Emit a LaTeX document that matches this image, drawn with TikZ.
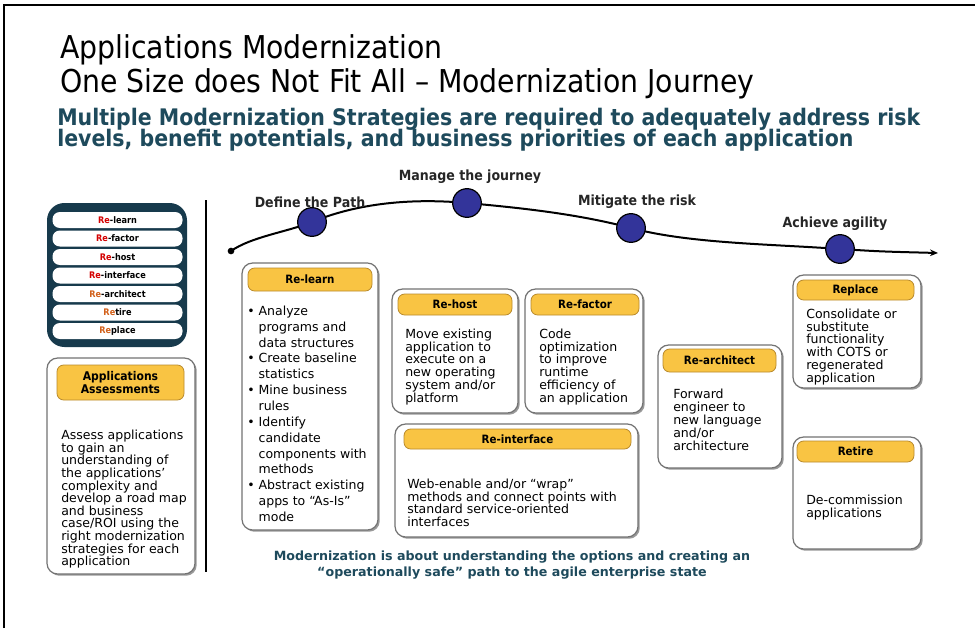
\documentclass[tikz,border=0pt]{standalone}
\usepackage{fontspec}
\setmainfont{DejaVu Sans}
\newfontfamily\condf{DejaVu Sans Condensed}
\usetikzlibrary{shadows,fit,arrows.meta}
\definecolor{hdrfill}{HTML}{F9C443}
\definecolor{hdrline}{HTML}{B8892C}
\definecolor{menunavy}{HTML}{173A4C}
\definecolor{darkteal}{HTML}{1E4A5C}
\definecolor{dotblue}{HTML}{33349A}
\definecolor{rered}{HTML}{D40000}
\definecolor{reorange}{HTML}{D2601A}
\begin{document}
\begin{tikzpicture}[x=0.75pt,y=-0.75pt,
  card/.style={draw=black!55, line width=0.9pt, rounded corners=8pt, fill=white,
     drop shadow={shadow xshift=1.3pt, shadow yshift=-1.3pt, fill=black!50, opacity=0.8}, inner sep=0pt},
  hdr/.style={draw=hdrline, line width=0.6pt, fill=hdrfill, rounded corners=5pt, inner sep=0pt},
  hdrtext/.style={inner sep=0pt, align=center, font=\condf\bfseries\fontsize{8.6}{10}\selectfont},
  body/.style={anchor=north west, align=left, inner sep=0pt, font=\fontsize{9.4}{9.6}\selectfont},
  pill/.style={fill=white, rounded corners=5.5pt, inner sep=0pt, minimum width=97.5pt, minimum height=12pt,
     font=\condf\bfseries\fontsize{6.8}{8}\selectfont},
  stop/.style={circle, fill=dotblue, draw=black, line width=0.9pt, minimum size=21.5pt, inner sep=0pt},
  stoplabel/.style={inner sep=0pt, font=\condf\bfseries\fontsize{10.5}{12}\selectfont, text=black!85},
  journey/.style={line width=1.5pt, -{Stealth[length=6pt,width=5pt]}},
  titletext/.style={anchor=base west, inner sep=0pt, font=\condf\fontsize{23.6}{28}\selectfont},
  subtext/.style={anchor=base west, inner sep=0pt, text=darkteal, font=\condf\bfseries\fontsize{17.1}{20}\selectfont},
  foottext/.style={inner sep=0pt, align=center, text=darkteal, font=\bfseries\fontsize{9.5}{12.2}\selectfont}
]
\useasboundingbox (0,0) rectangle (977,628);
\fill[white] (0,0) rectangle (977,628);
% frame
\coordinate (fbl) at (4,628); \coordinate (ftl) at (4,5); \coordinate (ftr) at (975,5);
\draw[line width=1.2pt] (fbl) -- (ftl) -- (ftr);

% titles
\node[titletext] (t1) at (60,58) {Applications Modernization};
\node[titletext] (t2) at (60,92) {One Size does Not Fit All – Modernization Journey};
\node[subtext] (s1) at (57,125) {Multiple Modernization Strategies are required to adequately address risk};
\node[subtext] (s2) at (57,146) {levels, benefit potentials, and business priorities of each application};

% menu
\node[fit={(47,203)(187,347)}, inner sep=0pt, fill=menunavy, rounded corners=13pt] (menu) {};
\node[pill] (m1) at (117.5,220) {\textcolor{rered}{Re}-learn};
\node[pill] (m2) at (117.5,238.5) {\textcolor{rered}{Re}-factor};
\node[pill] (m3) at (117.5,257) {\textcolor{rered}{Re}-host};
\node[pill] (m4) at (117.5,275.5) {\textcolor{rered}{Re}-interface};
\node[pill] (m5) at (117.5,294) {\textcolor{reorange}{Re}-architect};
\node[pill] (m6) at (117.5,312.5) {\textcolor{reorange}{Re}tire};
\node[pill] (m7) at (117.5,331) {\textcolor{reorange}{Re}place};

% divider
\coordinate (vtop) at (206,200); \coordinate (vbot) at (206,572);
\draw[line width=2.2pt] (vtop) -- (vbot);

% assessments
\node[card, fit={(47,358)(195,574)}] (assess) {};
\node[hdr, fit={(57,365)(184,400)}] (assessH) {};
\node[hdrtext, font=\condf\bfseries\fontsize{9}{10}\selectfont] at (assessH) {Applications\\Assessments};
\node[body, font=\fontsize{9.4}{9.45}\selectfont] (assessT) at (61,430) {Assess applications\\to gain an\\understanding of\\the applications’\\complexity and\\develop a road map\\and business\\case/ROI using the\\right modernization\\strategies for each\\application};

% journey
\coordinate (p0) at (231,251);
\coordinate (p1) at (312,222);
\coordinate (p2) at (467,203);
\coordinate (p3) at (631,228);
\coordinate (p4) at (840,249);
\coordinate (pe) at (938,253);
\draw[journey] (p0) .. controls (251.5,236.7) and (287,232) .. (p1)
   .. controls (358,203) and (412,198) .. (p2)
   .. controls (522,208) and (578,214) .. (p3)
   .. controls (689,243.5) and (770,244) .. (p4)
   .. controls (880,251.5) .. (pe);
\node[circle, fill=black, minimum size=5pt, inner sep=0pt] (startdot) at (p0) {};
\node[stop] (c1) at (p1) {};
\node[stop] (c2) at (p2) {};
\node[stop] (c3) at (p3) {};
\node[stop] (c4) at (p4) {};
\node[stoplabel] (l1) at (310,202) {Define the Path};
\node[stoplabel] (l2) at (470,177) {Manage the journey};
\node[stoplabel] (l3) at (637,202) {Mitigate the risk};
\node[stoplabel] (l4) at (835,224) {Achieve agility};

% Re-learn
\node[card, fit={(242,263)(378,530)}] (relearn) {};
\node[hdr, fit={(248,268)(372,291)}] (relearnH) {};
\node[hdrtext] at (relearnH) {Re-learn};
\node[body, font=\fontsize{9.4}{11.9}\selectfont] (relearnT) at (247,305.5) {%
\textbullet\ Analyze\\
\phantom{\textbullet\ }programs and\\
\phantom{\textbullet\ }data structures\\
\textbullet\ Create baseline\\
\phantom{\textbullet\ }statistics\\
\textbullet\ Mine business\\
\phantom{\textbullet\ }rules\\
\textbullet\ Identify\\
\phantom{\textbullet\ }candidate\\
\phantom{\textbullet\ }components with\\
\phantom{\textbullet\ }methods\\
\textbullet\ Abstract existing\\
\phantom{\textbullet\ }apps to “As-Is”\\
\phantom{\textbullet\ }mode};

% Re-host
\node[card, fit={(392,289)(518,413)}] (rehost) {};
\node[hdr, fit={(398,294)(512,315)}] (rehostH) {};
\node[hdrtext] at (rehostH) {Re-host};
\node[body] (rehostT) at (405,328.5) {Move existing\\application to\\execute on a\\new operating\\system and/or\\platform};

% Re-factor
\node[card, fit={(525,289)(643,413)}] (refactor) {};
\node[hdr, fit={(531,294)(639,315)}] (refactorH) {};
\node[hdrtext] at (refactorH) {Re-factor};
\node[body] (refactorT) at (539,328.5) {Code\\optimization\\to improve\\runtime\\efficiency of\\an application};

% Re-interface
\node[card, fit={(395,424)(638,537)}] (reint) {};
\node[hdr, fit={(404,429)(631,449)}] (reintH) {};
\node[hdrtext] at (reintH) {Re-interface};
\node[body] (reintT) at (407,478.5) {Web-enable and/or “wrap”\\methods and connect points with\\standard service-oriented\\interfaces};

% Re-architect
\node[card, fit={(658,345)(782,468)}] (rearch) {};
\node[hdr, fit={(663,349)(776,372)}] (rearchH) {};
\node[hdrtext] at (rearchH) {Re-architect};
\node[body, font=\fontsize{9.4}{9.8}\selectfont] (rearchT) at (673,388.5) {Forward\\engineer to\\new language\\and/or\\architecture};

% Replace
\node[card, fit={(793,275)(921,388)}] (replace) {};
\node[hdr, fit={(797,280)(914,300)}] (replaceH) {};
\node[hdrtext] at (replaceH) {Replace};
\node[body] (replaceT) at (806,308.5) {Consolidate or\\substitute\\functionality\\with COTS or\\regenerated\\application};

% Retire
\node[card, fit={(793,437)(921,549)}] (retire) {};
\node[hdr, fit={(797,441)(914,462)}] (retireH) {};
\node[hdrtext] at (retireH) {Retire};
\node[body] (retireT) at (806,494.5) {De-commission\\applications};

% footer
\node[foottext] (foot) at (512,565) {Modernization is about understanding the options and creating an\\“operationally safe” path to the agile enterprise state};
\end{tikzpicture}
\end{document}
